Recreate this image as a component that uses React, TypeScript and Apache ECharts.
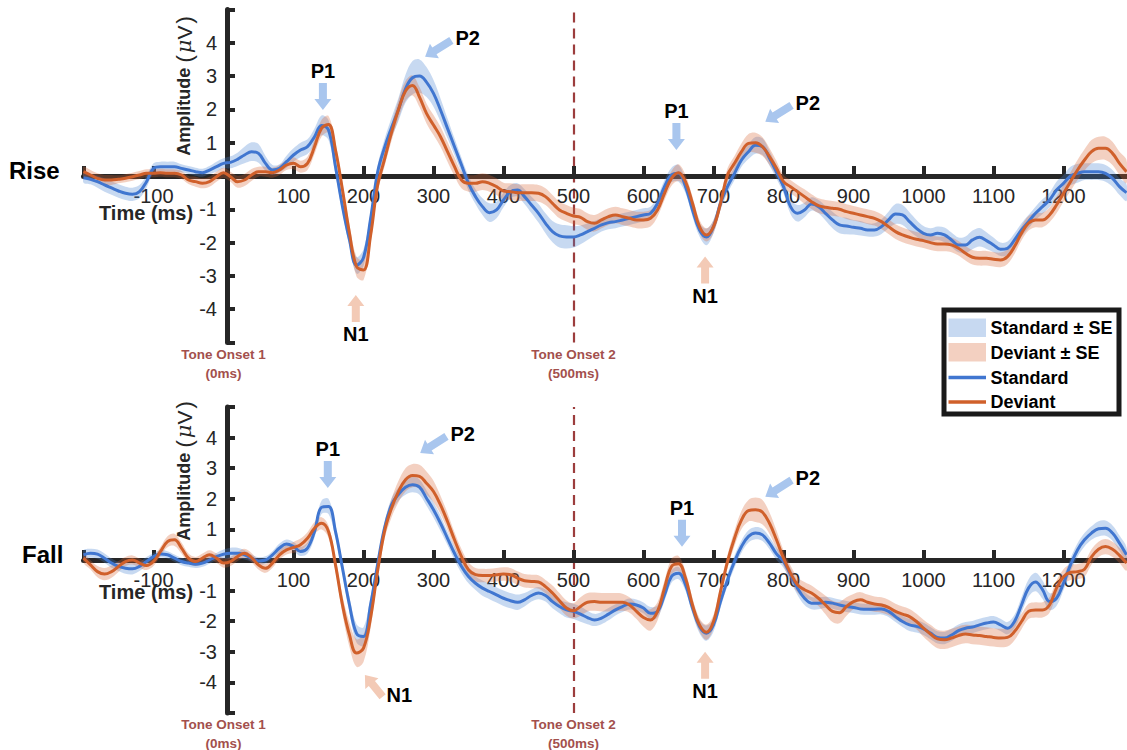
import React, { useEffect, useRef } from 'react';
import * as echarts from 'echarts';

// ---------------- data ----------------
const TIME_START = -200; // ms
const TIME_STEP = 10; // ms

// Rise panel
const RISE_STANDARD = [
  -0.05, -0.10, -0.17, -0.27, -0.36, -0.45, -0.52, -0.55, -0.47, -0.17,
  0.23, 0.28, 0.28, 0.28, 0.23, 0.18, 0.13, 0.10, 0.18, 0.28,
  0.38, 0.41, 0.50, 0.63, 0.73, 0.68, 0.38, 0.18, 0.23, 0.43,
  0.63, 0.78, 0.88, 1.18, 1.52, 1.38, 0.28, -0.92, -1.92, -2.68,
  -2.45, -1.30, 0.10, 0.85, 1.45, 2.00, 2.62, 2.95, 3.00, 2.82,
  2.48, 1.98, 1.43, 0.88, 0.33, -0.22, -0.62, -0.92, -1.10, -1.02,
  -0.72, -0.47, -0.42, -0.62, -0.87, -1.12, -1.42, -1.67, -1.80, -1.83,
  -1.83, -1.77, -1.67, -1.57, -1.47, -1.40, -1.37, -1.32, -1.27, -1.22,
  -1.17, -1.12, -0.82, -0.32, 0.03, 0.08, -0.32, -1.02, -1.62, -1.83,
  -1.52, -0.82, -0.32, 0.08, 0.48, 0.73, 0.92, 0.88, 0.53, 0.12,
  -0.32, -0.92, -1.12, -1.02, -0.84, -0.92, -1.12, -1.32, -1.47, -1.50,
  -1.54, -1.57, -1.62, -1.62, -1.52, -1.32, -1.14, -1.17, -1.37, -1.57,
  -1.72, -1.77, -1.72, -1.77, -1.92, -2.07, -2.07, -1.92, -1.84, -1.94,
  -2.07, -2.20, -2.17, -1.92, -1.62, -1.37, -1.12, -0.92, -0.72, -0.42,
  -0.22, 0.00, 0.08, 0.13, 0.13, 0.13, 0.08, -0.07, -0.32, -0.50,
];
const RISE_STANDARD_SE = [
  0.15, 0.15, 0.18, 0.20, 0.20, 0.20, 0.20, 0.20, 0.20, 0.18,
  0.15, 0.15, 0.15, 0.15, 0.12, 0.12, 0.12, 0.12, 0.12, 0.15,
  0.15, 0.18, 0.20, 0.25, 0.28, 0.28, 0.22, 0.15, 0.12, 0.18,
  0.20, 0.22, 0.22, 0.25, 0.30, 0.30, 0.25, 0.20, 0.20, 0.25,
  0.25, 0.20, 0.20, 0.25, 0.30, 0.35, 0.42, 0.50, 0.50, 0.45,
  0.40, 0.35, 0.30, 0.25, 0.22, 0.22, 0.22, 0.25, 0.28, 0.25,
  0.22, 0.20, 0.20, 0.22, 0.25, 0.28, 0.30, 0.32, 0.35, 0.35,
  0.32, 0.28, 0.25, 0.22, 0.20, 0.20, 0.20, 0.20, 0.20, 0.20,
  0.20, 0.20, 0.20, 0.20, 0.22, 0.25, 0.20, 0.20, 0.20, 0.25,
  0.20, 0.20, 0.20, 0.20, 0.20, 0.22, 0.25, 0.25, 0.22, 0.20,
  0.20, 0.22, 0.25, 0.22, 0.20, 0.20, 0.22, 0.25, 0.25, 0.25,
  0.22, 0.22, 0.20, 0.20, 0.22, 0.25, 0.30, 0.30, 0.28, 0.25,
  0.22, 0.20, 0.20, 0.22, 0.22, 0.22, 0.25, 0.28, 0.28, 0.25,
  0.22, 0.20, 0.20, 0.20, 0.20, 0.20, 0.20, 0.22, 0.22, 0.25,
  0.25, 0.28, 0.28, 0.25, 0.25, 0.25, 0.25, 0.25, 0.25, 0.25,
];
const RISE_DEVIANT = [
  0.13, 0.03, -0.07, -0.12, -0.12, -0.10, -0.07, -0.02, 0.03, 0.08,
  0.08, 0.10, 0.08, 0.08, 0.03, -0.12, -0.17, -0.22, -0.17, -0.02,
  0.10, -0.02, -0.17, -0.12, 0.03, 0.13, 0.13, 0.10, 0.18, 0.33,
  0.38, 0.28, 0.38, 0.88, 1.43, 1.55, 0.78, -0.42, -1.72, -2.72,
  -2.82, -1.80, -0.30, 0.50, 1.30, 2.00, 2.55, 2.72, 2.37, 1.88,
  1.53, 1.18, 0.73, 0.28, -0.12, -0.22, -0.22, -0.17, -0.22, -0.32,
  -0.45, -0.47, -0.50, -0.50, -0.50, -0.52, -0.62, -0.82, -1.02, -1.12,
  -1.20, -1.24, -1.37, -1.42, -1.32, -1.22, -1.17, -1.22, -1.27, -1.32,
  -1.32, -1.27, -1.02, -0.52, -0.07, 0.10, -0.17, -0.82, -1.52, -1.77,
  -1.52, -0.82, 0.03, 0.38, 0.73, 0.98, 1.00, 0.88, 0.58, 0.23,
  -0.17, -0.32, -0.47, -0.62, -0.77, -0.89, -0.94, -0.97, -1.00, -1.07,
  -1.12, -1.17, -1.22, -1.27, -1.37, -1.52, -1.67, -1.77, -1.84, -1.90,
  -1.94, -2.00, -2.04, -2.04, -2.07, -2.17, -2.32, -2.44, -2.47, -2.47,
  -2.50, -2.52, -2.42, -2.12, -1.72, -1.42, -1.32, -1.32, -1.17, -0.87,
  -0.52, -0.17, 0.18, 0.48, 0.73, 0.83, 0.83, 0.68, 0.38, 0.13,
];
const RISE_DEVIANT_SE = [
  0.15, 0.15, 0.15, 0.15, 0.15, 0.12, 0.12, 0.12, 0.12, 0.12,
  0.12, 0.12, 0.12, 0.12, 0.12, 0.12, 0.15, 0.15, 0.15, 0.15,
  0.15, 0.15, 0.18, 0.18, 0.18, 0.15, 0.15, 0.15, 0.15, 0.15,
  0.18, 0.18, 0.20, 0.22, 0.25, 0.25, 0.22, 0.22, 0.25, 0.30,
  0.30, 0.25, 0.20, 0.22, 0.25, 0.28, 0.30, 0.30, 0.30, 0.30,
  0.30, 0.30, 0.30, 0.28, 0.25, 0.25, 0.25, 0.25, 0.25, 0.25,
  0.25, 0.25, 0.25, 0.25, 0.25, 0.25, 0.25, 0.25, 0.25, 0.25,
  0.25, 0.25, 0.25, 0.25, 0.25, 0.25, 0.25, 0.25, 0.25, 0.25,
  0.25, 0.25, 0.20, 0.20, 0.22, 0.25, 0.20, 0.20, 0.20, 0.20,
  0.20, 0.20, 0.20, 0.22, 0.25, 0.28, 0.30, 0.28, 0.25, 0.22,
  0.20, 0.20, 0.20, 0.22, 0.22, 0.22, 0.22, 0.22, 0.22, 0.22,
  0.22, 0.22, 0.22, 0.22, 0.22, 0.22, 0.22, 0.22, 0.22, 0.22,
  0.22, 0.22, 0.22, 0.22, 0.22, 0.22, 0.22, 0.22, 0.22, 0.22,
  0.22, 0.22, 0.22, 0.22, 0.22, 0.22, 0.22, 0.22, 0.22, 0.25,
  0.25, 0.28, 0.30, 0.32, 0.35, 0.35, 0.35, 0.35, 0.35, 0.35,
];

// Fall panel
const FALL_STANDARD = [
  0.17, 0.22, 0.19, 0.06, -0.10, -0.21, -0.27, -0.29, -0.21, -0.05,
  0.11, 0.20, 0.17, 0.06, -0.05, -0.10, -0.14, -0.10, 0.00, 0.11,
  0.19, 0.22, 0.22, 0.17, 0.06, -0.03, 0.00, 0.17, 0.39, 0.52,
  0.44, 0.28, 0.39, 0.93, 1.72, 1.75, 0.93, -0.27, -1.47, -2.40,
  -2.50, -1.47, -0.16, 1.04, 1.80, 2.15, 2.38, 2.46, 2.38, 2.02,
  1.64, 1.20, 0.71, 0.22, -0.21, -0.54, -0.76, -0.92, -1.03, -1.14,
  -1.25, -1.33, -1.38, -1.30, -1.16, -1.08, -1.16, -1.36, -1.52, -1.63,
  -1.68, -1.77, -1.88, -1.96, -1.90, -1.77, -1.63, -1.52, -1.44, -1.47,
  -1.57, -1.74, -1.68, -1.14, -0.54, -0.43, -0.81, -1.57, -2.17, -2.39,
  -2.12, -1.36, -0.65, -0.05, 0.44, 0.77, 0.88, 0.82, 0.55, 0.20,
  -0.05, -0.48, -0.92, -1.25, -1.41, -1.41, -1.38, -1.41, -1.47, -1.52,
  -1.55, -1.60, -1.61, -1.61, -1.60, -1.68, -1.85, -2.01, -2.12, -2.17,
  -2.25, -2.39, -2.53, -2.55, -2.45, -2.31, -2.23, -2.19, -2.12, -2.06,
  -2.03, -2.12, -2.23, -2.01, -1.47, -0.92, -0.72, -0.97, -1.36, -1.25,
  -0.76, -0.16, 0.33, 0.66, 0.88, 1.02, 1.04, 0.88, 0.55, 0.17,
];
const FALL_STANDARD_SE = [
  0.15, 0.15, 0.15, 0.15, 0.15, 0.15, 0.18, 0.18, 0.15, 0.15,
  0.12, 0.12, 0.12, 0.12, 0.12, 0.12, 0.12, 0.12, 0.12, 0.12,
  0.15, 0.18, 0.18, 0.15, 0.12, 0.12, 0.12, 0.12, 0.15, 0.15,
  0.15, 0.15, 0.18, 0.20, 0.22, 0.25, 0.22, 0.20, 0.25, 0.30,
  0.30, 0.25, 0.20, 0.20, 0.22, 0.22, 0.25, 0.25, 0.25, 0.25,
  0.25, 0.25, 0.22, 0.22, 0.22, 0.22, 0.22, 0.25, 0.25, 0.25,
  0.25, 0.25, 0.25, 0.22, 0.20, 0.20, 0.20, 0.22, 0.22, 0.25,
  0.25, 0.25, 0.22, 0.20, 0.20, 0.20, 0.18, 0.18, 0.18, 0.18,
  0.18, 0.20, 0.20, 0.20, 0.20, 0.20, 0.20, 0.20, 0.22, 0.25,
  0.22, 0.20, 0.20, 0.20, 0.20, 0.20, 0.20, 0.20, 0.20, 0.20,
  0.20, 0.22, 0.22, 0.22, 0.20, 0.20, 0.18, 0.18, 0.18, 0.18,
  0.18, 0.18, 0.18, 0.18, 0.18, 0.18, 0.18, 0.18, 0.20, 0.20,
  0.20, 0.20, 0.20, 0.20, 0.20, 0.20, 0.20, 0.20, 0.20, 0.20,
  0.20, 0.20, 0.20, 0.22, 0.25, 0.28, 0.30, 0.30, 0.28, 0.25,
  0.22, 0.22, 0.22, 0.22, 0.22, 0.25, 0.25, 0.25, 0.25, 0.25,
];
const FALL_DEVIANT = [
  0.06, -0.16, -0.38, -0.46, -0.38, -0.21, -0.05, 0.00, -0.10, -0.18,
  -0.05, 0.28, 0.60, 0.66, 0.39, 0.06, -0.05, 0.06, 0.17, 0.06,
  -0.10, -0.05, 0.11, 0.22, 0.08, -0.16, -0.27, -0.10, 0.17, 0.33,
  0.41, 0.50, 0.71, 1.04, 1.20, 0.93, -0.16, -1.47, -2.45, -3.04,
  -2.88, -1.90, -0.38, 0.93, 1.69, 2.24, 2.62, 2.76, 2.73, 2.51,
  2.24, 1.80, 1.26, 0.66, 0.11, -0.32, -0.48, -0.51, -0.51, -0.48,
  -0.46, -0.48, -0.59, -0.68, -0.70, -0.72, -0.87, -1.08, -1.33, -1.57,
  -1.66, -1.52, -1.38, -1.36, -1.38, -1.38, -1.38, -1.38, -1.47, -1.68,
  -1.88, -1.96, -1.68, -0.92, -0.21, -0.12, -0.59, -1.47, -2.12, -2.36,
  -2.01, -1.03, -0.05, 0.71, 1.31, 1.61, 1.64, 1.56, 1.20, 0.66,
  0.06, -0.43, -0.81, -0.97, -1.08, -1.25, -1.47, -1.68, -1.72, -1.52,
  -1.36, -1.30, -1.38, -1.44, -1.47, -1.55, -1.68, -1.77, -1.85, -2.01,
  -2.23, -2.42, -2.58, -2.61, -2.55, -2.47, -2.42, -2.45, -2.47, -2.50,
  -2.53, -2.55, -2.53, -2.34, -2.01, -1.68, -1.63, -1.63, -1.47, -0.92,
  -0.55, -0.40, -0.38, -0.30, 0.10, 0.35, 0.44, 0.35, 0.15, -0.10,
];
const FALL_DEVIANT_SE = [
  0.15, 0.15, 0.18, 0.20, 0.20, 0.18, 0.15, 0.15, 0.15, 0.15,
  0.15, 0.15, 0.18, 0.20, 0.18, 0.15, 0.15, 0.15, 0.15, 0.15,
  0.15, 0.15, 0.15, 0.15, 0.15, 0.15, 0.15, 0.15, 0.15, 0.15,
  0.18, 0.20, 0.20, 0.20, 0.20, 0.20, 0.22, 0.30, 0.40, 0.45,
  0.45, 0.35, 0.25, 0.25, 0.30, 0.35, 0.38, 0.38, 0.38, 0.38,
  0.35, 0.30, 0.28, 0.25, 0.25, 0.25, 0.22, 0.22, 0.22, 0.22,
  0.22, 0.22, 0.22, 0.22, 0.22, 0.22, 0.22, 0.25, 0.25, 0.25,
  0.25, 0.30, 0.30, 0.30, 0.30, 0.30, 0.30, 0.28, 0.25, 0.25,
  0.30, 0.35, 0.30, 0.25, 0.25, 0.25, 0.22, 0.22, 0.22, 0.25,
  0.22, 0.22, 0.22, 0.25, 0.30, 0.35, 0.40, 0.40, 0.35, 0.30,
  0.25, 0.25, 0.25, 0.25, 0.25, 0.25, 0.30, 0.35, 0.35, 0.30,
  0.25, 0.25, 0.25, 0.25, 0.25, 0.25, 0.25, 0.25, 0.25, 0.25,
  0.28, 0.30, 0.30, 0.30, 0.30, 0.30, 0.30, 0.30, 0.30, 0.30,
  0.30, 0.30, 0.30, 0.28, 0.25, 0.25, 0.25, 0.25, 0.25, 0.25,
  0.25, 0.25, 0.25, 0.25, 0.25, 0.25, 0.25, 0.25, 0.25, 0.25,
];

const TIMES = RISE_STANDARD.map((_, i) => TIME_START + i * TIME_STEP);

const X_MIN = -200;
const X_MAX = 1290;
const Y_MIN = -5;
const Y_MAX = 5;
const X_TICKS = [-200, -100, 100, 200, 300, 400, 500, 600, 700, 800, 900, 1000, 1100, 1200];
const X_LABELS = [-100, 100, 200, 300, 400, 500, 600, 700, 800, 900, 1000, 1100, 1200];
const Y_TICKS = [-5, -4, -3, -2, -1, 1, 2, 3, 4, 5];
const Y_LABELS = [-4, -3, -2, -1, 1, 2, 3, 4];

const PANEL_NAMES = ['Rise', 'Fall'];
const ONSET_TIMES = [0, 500];
const ONSET_LABELS = ['Tone Onset 1\n(0ms)', 'Tone Onset 2\n(500ms)'];
const LEGEND_LABELS = ['Standard ± SE', 'Deviant ± SE', 'Standard', 'Deviant'];

// peak annotations (tip of arrow, in data coordinates)
const PEAK_LABELS = ['P1', 'N1', 'P2', 'P1', 'N1', 'P2'];
const RISE_PEAK_TIMES = [142, 189, 288, 647, 688, 774];
const RISE_PEAK_VALUES = [1.98, -3.57, 3.58, 0.78, -2.42, 1.63];
const FALL_PEAK_TIMES = [149, 202, 281, 655, 688, 774];
const FALL_PEAK_VALUES = [2.35, -3.76, 3.5, 0.43, -3.0, 2.07];
const RISE_ARROWS = ['down', 'up', 'downLeft', 'down', 'up', 'downLeft'];
const FALL_ARROWS = ['down', 'upLeft', 'downLeft', 'down', 'up', 'downLeft'];

// ---------------- styles ----------------
const FONT = '"Liberation Sans", Arial, Helvetica, sans-serif';
const AXIS_COLOR = '#262626';
const BLUE = '#4076d0';
const ORANGE = '#d0602b';
const BLUE_BAND = 'rgba(70,130,210,0.30)';
const ORANGE_BAND = 'rgba(215,100,50,0.30)';
const BLUE_ARROW = '#a9c6ee';
const ORANGE_ARROW = '#f3cab6';
const ONSET_COLOR = '#a3504d';

// data grids
const GRIDS = [
  { left: 83.5, top: 9.5, width: 1043, height: 333 },
  { left: 83.5, top: 407, width: 1043, height: 306 },
];
const Y_AXIS_TIME = 5; // the vertical axis line sits at +5 ms in the original figure

function bandSeries(p: number, mean: number[], se: number[], color: string) {
  return {
    type: 'custom',
    xAxisIndex: p,
    yAxisIndex: p,
    silent: true,
    clip: true,
    z: 1,
    encode: { x: 0, y: [1, 2] },
    data: TIMES.map((t, i) => [t, +(mean[i] - se[i]).toFixed(3), +(mean[i] + se[i]).toFixed(3)]),
    renderItem: (params: any, api: any) => {
      if (params.dataIndexInside !== 0) return null;
      const n = params.dataInsideLength;
      const up: number[][] = [];
      const lo: number[][] = [];
      for (let k = 0; k < n; k++) {
        const t = api.value(0, k);
        up.push(api.coord([t, api.value(2, k)]));
        lo.push(api.coord([t, api.value(1, k)]));
      }
      return {
        type: 'polygon',
        shape: { points: up.concat(lo.reverse()), smooth: 0.35 },
        style: { fill: color },
      };
    },
  };
}

function lineSeries(p: number, name: string, mean: number[], color: string, extra: any = {}) {
  return {
    type: 'line',
    name,
    xAxisIndex: p,
    yAxisIndex: p,
    data: TIMES.map((t, i) => [t, mean[i]]),
    symbol: 'none',
    smooth: 0.4,
    silent: true,
    lineStyle: { color, width: 3 },
    itemStyle: { color },
    z: 3,
    ...extra,
  };
}

function buildOption() {
  const panels = [
    { std: RISE_STANDARD, stdSe: RISE_STANDARD_SE, dev: RISE_DEVIANT, devSe: RISE_DEVIANT_SE },
    { std: FALL_STANDARD, stdSe: FALL_STANDARD_SE, dev: FALL_DEVIANT, devSe: FALL_DEVIANT_SE },
  ];
  const series: any[] = [];
  panels.forEach((pd, p) => {
    series.push(bandSeries(p, pd.std, pd.stdSe, BLUE_BAND));
    series.push(bandSeries(p, pd.dev, pd.devSe, ORANGE_BAND));
    series.push(
      lineSeries(p, 'Standard', pd.std, BLUE, {
        markLine: {
          silent: true,
          symbol: ['none', 'none'],
          label: { show: false },
          z: 0,
          lineStyle: { type: [10, 6], color: '#9c3d3d', width: 2.2 },
          data: [{ xAxis: ONSET_TIMES[1] }],
        },
      })
    );
    series.push(lineSeries(p, 'Deviant', pd.dev, ORANGE));
  });

  // grids: 0,1 data; 2,3 horizontal axis (bottom edge on the zero line); 4,5 vertical axis
  const grids: any[] = [];
  GRIDS.forEach((g) => grids.push({ ...g }));
  GRIDS.forEach((g) => grids.push({ left: g.left, top: g.top, width: g.width, height: g.height / 2 }));
  GRIDS.forEach((g) =>
    grids.push({
      left: g.left + (g.width * (Y_AXIS_TIME - X_MIN)) / (X_MAX - X_MIN),
      top: g.top,
      width: 100,
      height: g.height,
    })
  );
  grids.forEach((g) => {
    g.containLabel = false;
    g.outerBoundsMode = 'none';
  });

  const hiddenX = (gi: number) => ({
    type: 'value', gridIndex: gi, min: X_MIN, max: X_MAX, show: false, splitLine: { show: false },
  });
  const hiddenY = (gi: number) => ({
    type: 'value', gridIndex: gi, min: Y_MIN, max: Y_MAX, show: false, splitLine: { show: false },
  });
  const shownX = (gi: number) => ({
    type: 'value',
    gridIndex: gi,
    position: 'bottom',
    min: X_MIN,
    max: X_MAX,
    interval: 100,
    axisLine: { show: true, onZero: false, lineStyle: { color: AXIS_COLOR, width: 5 } },
    axisTick: { show: true, inside: true, length: 10, customValues: X_TICKS, lineStyle: { color: AXIS_COLOR, width: 4 } },
    axisLabel: {
      customValues: X_LABELS,
      color: AXIS_COLOR,
      fontSize: 20,
      fontFamily: FONT,
      margin: 10,
      formatter: (v: number) => String(v),
    },
    splitLine: { show: false },
  });
  const shownY = (gi: number) => ({
    type: 'value',
    gridIndex: gi,
    position: 'left',
    min: Y_MIN,
    max: Y_MAX,
    interval: 1,
    axisLine: { show: true, onZero: false, lineStyle: { color: AXIS_COLOR, width: 5 } },
    axisTick: { show: true, inside: true, length: 8, customValues: Y_TICKS, lineStyle: { color: AXIS_COLOR, width: 4 } },
    axisLabel: {
      customValues: Y_LABELS,
      color: AXIS_COLOR,
      fontSize: 20,
      fontFamily: FONT,
      margin: 10,
      formatter: (v: number) => String(v),
    },
    splitLine: { show: false },
  });

  return {
    animation: false,
    backgroundColor: '#ffffff',
    grid: grids,
    xAxis: [hiddenX(0), hiddenX(1), shownX(2), shownX(3), hiddenX(4), hiddenX(5)],
    yAxis: [hiddenY(0), hiddenY(1), { ...hiddenY(2), min: 0, max: 1 }, { ...hiddenY(3), min: 0, max: 1 }, shownY(4), shownY(5)],
    series,
  };
}

const DIRS: Record<string, { d: number[]; len: number }> = {
  down: { d: [0, 1], len: 27 },
  up: { d: [0, -1], len: 27 },
  downLeft: { d: [-0.848, 0.53], len: 31 },
  upLeft: { d: [-0.633, -0.774], len: 28 },
};

function arrowPoints(tip: number[], d: number[], len: number) {
  const [dx, dy] = d;
  const nx = -dy;
  const ny = dx;
  const sw = 4;
  const hw = 8.5;
  const hl = 11;
  const tail = [tip[0] - dx * len, tip[1] - dy * len];
  const neck = [tip[0] - dx * hl, tip[1] - dy * hl];
  return {
    tail,
    points: [
      [tail[0] + nx * sw, tail[1] + ny * sw],
      [neck[0] + nx * sw, neck[1] + ny * sw],
      [neck[0] + nx * hw, neck[1] + ny * hw],
      [tip[0], tip[1]],
      [neck[0] - nx * hw, neck[1] - ny * hw],
      [neck[0] - nx * sw, neck[1] - ny * sw],
      [tail[0] - nx * sw, tail[1] - ny * sw],
    ],
  };
}

function buildGraphics(chart: any) {
  const g: any[] = [];
  const peakSets = [
    { times: RISE_PEAK_TIMES, values: RISE_PEAK_VALUES, arrows: RISE_ARROWS },
    { times: FALL_PEAK_TIMES, values: FALL_PEAK_VALUES, arrows: FALL_ARROWS },
  ];
  peakSets.forEach((ps, p) => {
    ps.times.forEach((t, i) => {
      const tip = chart.convertToPixel({ xAxisIndex: p, yAxisIndex: p }, [t, ps.values[i]]);
      const kind = DIRS[ps.arrows[i]];
      const { tail, points } = arrowPoints(tip, kind.d, kind.len);
      const label = PEAK_LABELS[i];
      g.push({
        type: 'polygon',
        shape: { points },
        style: { fill: label[0] === 'N' ? ORANGE_ARROW : BLUE_ARROW },
        silent: true,
        z: 50,
      });
      const vertical = kind.d[0] === 0;
      g.push({
        type: 'text',
        x: vertical ? tip[0] : tail[0] + 4,
        y: vertical ? tail[1] - kind.d[1] * 12 : tail[1] - 2,
        style: {
          text: label,
          fill: '#000',
          fontSize: 20,
          fontWeight: 'bold',
          fontFamily: FONT,
          align: vertical ? 'center' : 'left',
          verticalAlign: 'middle',
        },
        silent: true,
        z: 60,
      });
    });

    const grid = GRIDS[p];
    const bottom = grid.top + grid.height;
    ONSET_TIMES.forEach((t, i) => {
      const x = chart.convertToPixel({ xAxisIndex: p }, t);
      g.push({
        type: 'text',
        x,
        y: bottom + 2,
        style: {
          text: ONSET_LABELS[i],
          fill: ONSET_COLOR,
          fontSize: 13.5,
          fontWeight: 'bold',
          fontFamily: FONT,
          align: 'center',
          verticalAlign: 'top',
          lineHeight: 19,
        },
        silent: true,
        z: 60,
      });
    });

    const zeroY = chart.convertToPixel({ yAxisIndex: p }, 0);
    g.push({
      type: 'text',
      x: p === 0 ? 9 : 22,
      y: zeroY - 6,
      style: {
        text: PANEL_NAMES[p],
        fill: '#000',
        fontSize: 24,
        fontWeight: 'bold',
        fontFamily: FONT,
        align: 'left',
        verticalAlign: 'middle',
      },
      silent: true,
      z: 60,
    });
    g.push({
      type: 'text',
      x: 99,
      y: p === 0 ? zeroY + 37 : zeroY + 32,
      style: {
        text: 'Time (ms)',
        fill: AXIS_COLOR,
        fontSize: 20,
        fontWeight: 'bold',
        fontFamily: FONT,
        align: 'left',
        verticalAlign: 'middle',
      },
      silent: true,
      z: 60,
    });
    g.push({
      type: 'text',
      x: 184,
      y: p === 0 ? 85 : 470,
      rotation: Math.PI / 2,
      style: {
        text: '{a|Amplitude} {p|(}{m|μ}{v|V}{p|)}',
        fill: AXIS_COLOR,
        align: 'center',
        verticalAlign: 'middle',
        rich: {
          a: { fontSize: 18, fontWeight: 'bold', fontFamily: FONT, fill: AXIS_COLOR },
          p: { fontSize: 22, fontFamily: FONT, fill: AXIS_COLOR, padding: [0, 2] },
          m: { fontSize: 21, fontStyle: 'italic', fontFamily: '"DejaVu Serif", serif', fill: AXIS_COLOR },
          v: { fontSize: 21, fontFamily: FONT, fill: AXIS_COLOR },
        },
      },
      silent: true,
      z: 60,
    });
  });

  // legend
  const lx = 944;
  const ly = 310;
  g.push({
    type: 'rect',
    shape: { x: lx, y: ly, width: 175, height: 104 },
    style: { fill: '#fff', stroke: '#1a1a1a', lineWidth: 5 },
    silent: true,
    z: 80,
  });
  const rowY = [328, 352.5, 377.5, 402];
  const swatch = [BLUE_BAND, ORANGE_BAND, BLUE, ORANGE];
  LEGEND_LABELS.forEach((lab, i) => {
    if (i < 2) {
      g.push({
        type: 'rect',
        shape: { x: lx + 4.5, y: rowY[i] - 9.5, width: 37.5, height: 18.5 },
        style: { fill: swatch[i] },
        silent: true,
        z: 81,
      });
    } else {
      g.push({
        type: 'line',
        shape: { x1: lx + 4.5, y1: rowY[i], x2: lx + 42, y2: rowY[i] },
        style: { stroke: swatch[i], lineWidth: 3.5 },
        silent: true,
        z: 81,
      });
    }
    g.push({
      type: 'text',
      x: lx + 46.5,
      y: rowY[i],
      style: {
        text: lab,
        fill: '#000',
        fontSize: 18,
        fontWeight: 'bold',
        fontFamily: FONT,
        align: 'left',
        verticalAlign: 'middle',
      },
      silent: true,
      z: 82,
    });
  });
  return g;
}

export default function App() {
  const ref = useRef<HTMLDivElement>(null);
  useEffect(() => {
    if (!ref.current) return;
    const chart = echarts.init(ref.current, null, { renderer: 'svg' });
    chart.setOption(buildOption() as any);
    chart.setOption({ graphic: buildGraphics(chart) } as any);
    return () => chart.dispose();
  }, []);
  return (
    <div
      ref={ref}
      style={{ position: 'fixed', left: 0, top: 0, width: 1127, height: 750, background: '#fff' }}
    />
  );
}
